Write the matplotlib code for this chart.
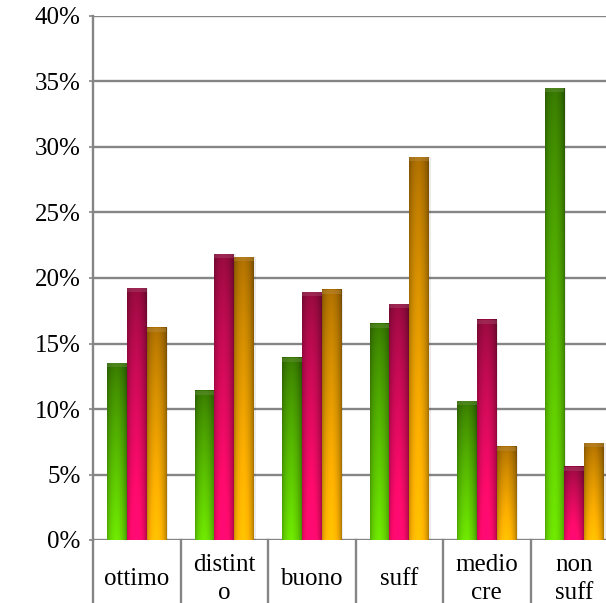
import numpy as np
import matplotlib
matplotlib.use("Agg")
import matplotlib.pyplot as plt
from matplotlib.colors import to_rgb
from matplotlib.lines import Line2D
from matplotlib.transforms import blended_transform_factory

plt.rcParams['font.family'] = ['Liberation Serif', 'DejaVu Serif']

# data (percent)
categories = ["ottimo", "distint\no", "buono", "suff", "medio\ncre", "non\nsuff"]
green_vals = [13.5, 11.4, 13.9, 16.5, 10.6, 34.5]
red_vals = [19.2, 21.8, 18.9, 18.0, 16.8, 5.6]
orange_vals = [16.2, 21.6, 19.1, 29.2, 7.1, 7.4]
y_ticks = [0, 5, 10, 15, 20, 25, 30, 35, 40]

series = [green_vals, red_vals, orange_vals]
# (dark top colour, bright bottom colour)
shades = [("#336f00", "#66d600"),
          ("#8a0a3a", "#ff0a6c"),
          ("#a06600", "#ffb300")]

W, H = 606, 603
fig = plt.figure(figsize=(W / 100, H / 100), dpi=100)
# axes runs past the right edge of the picture like the original
ax = fig.add_axes([93 / W, (H - 540) / H, 525 / W, (540 - 16) / H])

grey = "#858585"
ax.set_ylim(0, 40)
ax.set_xlim(-0.5, len(categories) - 0.5)
ax.set_yticks(y_ticks)
ax.set_yticklabels([f"{t}%" for t in y_ticks], fontsize=18)
ax.tick_params(axis='y', length=3, width=1.2, color=grey, pad=6)
ax.set_xticks([])
ax.yaxis.grid(True, color=grey, linewidth=1.7)
ax.set_axisbelow(True)
for s in ["top", "right", "bottom"]:
    ax.spines[s].set_visible(False)
ax.spines["left"].set_color(grey)
ax.spines["left"].set_linewidth(1.7)


def bar_image(dark, bright, n=120, m=40):
    d = np.array(to_rgb(dark))
    b = np.array(to_rgb(bright))
    t = np.linspace(0, 1, n)[:, None, None] ** 0.8
    img = d * (1 - t) + b * t
    # cylinder shading across the bar
    u = np.linspace(-1, 1, m)
    shade = 0.78 + 0.32 * np.cos(u * np.pi / 2) ** 0.6
    shade = shade - 0.1 * np.clip(u, 0, 1)
    img = img * shade[None, :, None]
    return np.clip(img, 0, 1)


bw = 0.225
x = np.arange(len(categories))
for k, vals in enumerate(series):
    img = bar_image(*shades[k])
    for i, v in enumerate(vals):
        x0 = x[i] + (k - 1) * bw - bw / 2
        # soft shadow
        ax.bar(x0 + bw / 2 + 0.02, v, width=bw, color="#000000", alpha=0.08,
               zorder=2, linewidth=0)
        ax.imshow(img, extent=[x0, x0 + bw, 0, v], aspect='auto', zorder=3,
                  interpolation='bilinear')
        # bevelled cap
        cap = np.array(to_rgb(shades[k][0])) * 0.75 + 0.25
        ax.add_patch(plt.Rectangle((x0, v - 0.3), bw, 0.3, color=cap,
                                   alpha=0.45, zorder=4, linewidth=0))

ax.set_xlim(-0.5, len(categories) - 0.5)
ax.set_ylim(0, 40)

# category table under the axis
below = -63 / 524
trans = blended_transform_factory(ax.transData, ax.transAxes)
ax.add_line(Line2D([-0.5, -0.5], [0, below], transform=trans, color=grey,
                   linewidth=1.7, clip_on=False))
for i in range(len(categories)):
    ax.add_line(Line2D([i + 0.5, i + 0.5], [0, below], transform=trans,
                       color=grey, linewidth=1.7, clip_on=False))
    ax.text(x[i], -39 / 524, categories[i], transform=trans, ha='center',
            va='center', multialignment='center', fontsize=18,
            linespacing=1.4)

fig.savefig("out.png", dpi=100)
